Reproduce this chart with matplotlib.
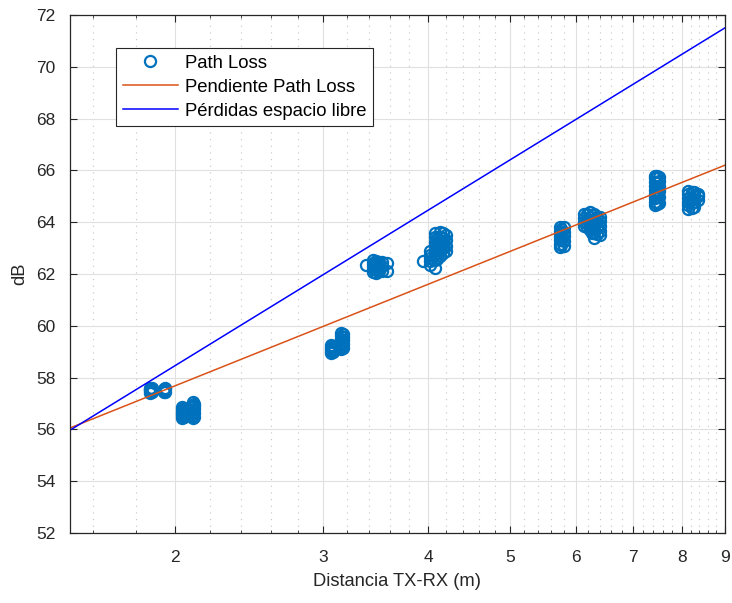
import numpy as np
import matplotlib
matplotlib.use("Agg")
import matplotlib.pyplot as plt
from matplotlib.ticker import FixedLocator, NullFormatter

plt.rcParams['font.family'] = ['Liberation Sans', 'DejaVu Sans']

# Measured path loss, one list per measurement spot
c1_d = [1.87, 1.87, 1.87, 1.87, 1.87, 1.88, 1.88, 1.88,
        1.94, 1.94, 1.94, 1.94, 1.95, 1.95, 1.95]
c1_pl = [57.42, 57.47, 57.52, 57.57, 57.62, 57.45, 57.54, 57.60,
         57.43, 57.48, 57.53, 57.58, 57.46, 57.55, 57.62]

c2_d = [2.04, 2.04, 2.04, 2.04, 2.04, 2.04, 2.04, 2.05, 2.05, 2.05, 2.05,
        2.10, 2.10, 2.10, 2.10, 2.10, 2.10, 2.10, 2.10, 2.11, 2.11, 2.11, 2.11, 2.11]
c2_pl = [56.45, 56.52, 56.58, 56.65, 56.72, 56.78, 56.85, 56.48, 56.62, 56.75, 56.82,
         56.45, 56.52, 56.60, 56.68, 56.75, 56.85, 56.95, 57.05, 56.50, 56.65, 56.80, 56.92, 57.00]

c3_d = [3.07, 3.07, 3.07, 3.07, 3.07, 3.08, 3.08, 3.08,
        3.15, 3.15, 3.15, 3.15, 3.15, 3.15, 3.15, 3.15, 3.17, 3.17, 3.17, 3.17, 3.17]
c3_pl = [58.95, 59.02, 59.10, 59.18, 59.25, 59.00, 59.12, 59.22,
         59.10, 59.18, 59.26, 59.34, 59.42, 59.50, 59.60, 59.72, 59.15, 59.30, 59.45, 59.58, 59.70]

c4_d = [3.37, 3.44, 3.44, 3.44, 3.44, 3.44, 3.47, 3.47, 3.47, 3.47, 3.47,
        3.50, 3.50, 3.50, 3.50, 3.53, 3.53, 3.53, 3.57, 3.57]
c4_pl = [62.35, 62.08, 62.20, 62.32, 62.44, 62.55, 62.05, 62.16, 62.28, 62.40, 62.52,
         62.10, 62.22, 62.35, 62.48, 62.12, 62.30, 62.45, 62.12, 62.42]

c5_d = [3.94, 4.02, 4.02, 4.02, 4.02, 4.02, 4.07, 4.07, 4.07, 4.07, 4.07, 4.07, 4.07, 4.07,
        4.10, 4.10, 4.10, 4.10, 4.10, 4.13, 4.13, 4.13, 4.13, 4.13, 4.13,
        4.16, 4.16, 4.16, 4.16, 4.16, 4.20, 4.20, 4.20, 4.20]
c5_pl = [62.50, 62.35, 62.50, 62.62, 62.75, 62.88, 62.25, 62.55, 62.72, 62.90, 63.08, 63.25, 63.42, 63.58,
         62.60, 62.80, 63.00, 63.20, 63.40, 62.70, 62.90, 63.10, 63.28, 63.45, 63.62,
         62.80, 63.00, 63.20, 63.40, 63.58, 62.90, 63.10, 63.30, 63.50]

c6_d = [5.73, 5.73, 5.73, 5.73, 5.73, 5.73, 5.73, 5.76, 5.76, 5.76, 5.76,
        5.80, 5.80, 5.80, 5.80, 5.80]
c6_pl = [63.05, 63.18, 63.30, 63.42, 63.55, 63.68, 63.80, 63.12, 63.35, 63.58, 63.75,
         63.10, 63.28, 63.46, 63.64, 63.82]

c7_d = [6.13, 6.13, 6.13, 6.13, 6.18, 6.18, 6.18, 6.18, 6.22, 6.22, 6.22, 6.22, 6.22,
        6.26, 6.26, 6.26, 6.26, 6.30, 6.30, 6.30, 6.30, 6.30, 6.30,
        6.35, 6.35, 6.35, 6.35, 6.40, 6.40, 6.40, 6.40, 6.40]
c7_pl = [63.85, 64.00, 64.15, 64.30, 63.80, 63.98, 64.14, 64.32, 63.70, 63.88, 64.05, 64.22, 64.40,
         63.60, 63.82, 64.05, 64.28, 63.40, 63.58, 63.76, 63.94, 64.12, 64.32,
         63.55, 63.78, 64.00, 64.22, 63.50, 63.68, 63.86, 64.04, 64.22]

c8_d = [7.43, 7.43, 7.43, 7.43, 7.43, 7.43, 7.43, 7.43, 7.43,
        7.48, 7.48, 7.48, 7.48, 7.48, 7.53, 7.53, 7.53, 7.53, 7.53, 7.53]
c8_pl = [64.65, 64.80, 64.95, 65.10, 65.25, 65.40, 65.55, 65.70, 65.80,
         64.70, 64.98, 65.25, 65.52, 65.78, 64.75, 64.98, 65.20, 65.40, 65.60, 65.75]

c9_d = [8.15, 8.15, 8.15, 8.15, 8.15, 8.15, 8.22, 8.22, 8.22, 8.22,
        8.28, 8.28, 8.28, 8.28, 8.36, 8.36, 8.36]
c9_pl = [64.52, 64.65, 64.80, 64.95, 65.08, 65.20, 64.55, 64.75, 64.95, 65.15,
         64.60, 64.80, 65.00, 65.15, 64.85, 65.00, 65.10]

dist = np.concatenate([c1_d, c2_d, c3_d, c4_d, c5_d, c6_d, c7_d, c8_d, c9_d])
pl = np.concatenate([c1_pl, c2_pl, c3_pl, c4_pl, c5_pl, c6_pl, c7_pl, c8_pl, c9_pl])

# fitted slope and free space loss (end points on the log axis)
fit_d = [1.5, 9.0]
fit_pl = [56.05, 66.2]
free_d = [1.5, 9.0]
free_pl = [55.96, 71.5]

fig = plt.figure(figsize=(7.32, 6.03), dpi=100)
ax = fig.add_axes([0.095, 0.116, 0.895, 0.859])

ax.plot(dist, pl, 'o', mfc='none', mec='#0072BD', ms=8, mew=1.6, label='Path Loss')
ax.plot(fit_d, fit_pl, '-', color='#D95319', lw=1.1, label='Pendiente Path Loss')
ax.plot(free_d, free_pl, '-', color='#0000FF', lw=1.1, label='Pérdidas espacio libre')

ax.set_xscale('log')
ax.set_xlim(1.5, 9)
ax.set_ylim(52, 72)
ax.xaxis.set_major_locator(FixedLocator([2, 3, 4, 5, 6, 7, 8, 9]))
ax.set_xticklabels(['2', '3', '4', '5', '6', '7', '8', '9'])
minor = [1.6, 1.8] + [m + f for m in range(2, 9) for f in (0.2, 0.4, 0.6, 0.8)]
ax.xaxis.set_minor_locator(FixedLocator(minor))
ax.xaxis.set_minor_formatter(NullFormatter())
ax.set_yticks(np.arange(52, 73, 2))

ax.grid(True, which='major', color='#e0e0e0', lw=0.8)
ax.grid(True, which='minor', axis='x', color='#c4c4c4', lw=0.8, ls=(0, (1, 5)))
ax.set_axisbelow(True)

for s in ax.spines.values():
    s.set_color('#262626')
    s.set_linewidth(0.9)
ax.tick_params(which='both', direction='in', top=True, right=True, colors='#262626',
               labelsize=12.5)
ax.tick_params(which='major', length=5, width=0.8)
ax.tick_params(which='minor', length=2.5, width=0.6)
ax.tick_params(axis='x', pad=12)
ax.tick_params(axis='y', pad=10)

ax.set_xlabel('Distancia TX-RX (m)', fontsize=13.2, color='#262626', labelpad=6)
ax.set_ylabel('dB', fontsize=13.2, color='#262626', labelpad=6)

leg = ax.legend(loc='upper left', bbox_to_anchor=(0.071, 0.936), borderaxespad=0,
                fontsize=13.3, fancybox=False, framealpha=1, edgecolor='#262626',
                handlelength=3.0, handletextpad=0.4, labelspacing=0.38, borderpad=0.35)
leg.get_frame().set_linewidth(0.8)

fig.savefig('out.png', dpi=100)
